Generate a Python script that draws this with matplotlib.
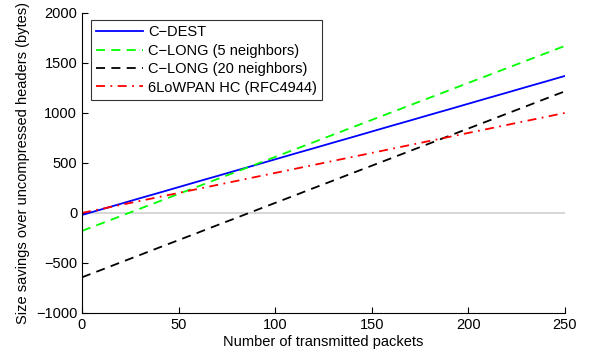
import matplotlib
matplotlib.use('Agg')
import matplotlib.pyplot as plt

plt.rcParams['font.family'] = ['Liberation Sans', 'DejaVu Sans']

# Number of transmitted packets
packets = [0, 10, 20, 30, 40, 50, 60, 70, 80, 90, 100, 110, 120, 130, 140,
           150, 160, 170, 180, 190, 200, 210, 220, 230, 240, 250]

# Size savings (bytes)
c_dest = [-20, 35, 91, 147, 202, 258, 314, 369, 425, 480, 536, 592, 647, 703,
          758, 814, 870, 925, 981, 1036, 1092, 1148, 1203, 1259, 1314, 1370]
c_long5 = [-180, -106, -32, 42, 116, 190, 264, 338, 412, 486, 560, 634, 708,
           782, 856, 930, 1004, 1078, 1152, 1226, 1300, 1374, 1448, 1522, 1596, 1670]
c_long20 = [-644, -570, -495, -421, -346, -272, -198, -123, -49, 26, 100, 174,
            249, 323, 398, 472, 546, 621, 695, 770, 844, 918, 993, 1067, 1142, 1216]
lowpan = [0, 40, 80, 120, 160, 200, 240, 280, 320, 360, 400, 440, 480, 520,
          560, 600, 640, 680, 720, 760, 800, 840, 880, 920, 960, 1000]

fig = plt.figure(figsize=(5.92, 3.58), dpi=100)
ax = fig.add_axes([0.1385, 0.126, 0.8155, 0.8377])

ax.axhline(0, color='#d0d0d0', lw=1.2, zorder=1)
ax.plot(packets, c_dest, color='#0000ff', lw=1.3, label='C\u2212DEST')
ax.plot(packets, c_long5, color='#00ff00', lw=1.3, ls=(0, (5, 3.5)),
        label='C\u2212LONG (5 neighbors)')
ax.plot(packets, c_long20, color='black', lw=1.3, ls=(0, (5, 3.5)),
        label='C\u2212LONG (20 neighbors)')
ax.plot(packets, lowpan, color='#ff0000', lw=1.3, ls=(0, (5, 3, 1, 3)),
        label='6LoWPAN HC (RFC4944)')

ax.set_xlim(0, 250)
ax.set_ylim(-1000, 2000)
ax.set_xticks([0, 50, 100, 150, 200, 250])
ax.set_yticks([-1000, -500, 0, 500, 1000, 1500, 2000])
ax.set_yticklabels(['\u22121000', '\u2212500', '0', '500', '1000', '1500', '2000'])
ax.tick_params(direction='in', length=4, labelsize=10.5, width=0.8)
for s in ['top', 'right']:
    ax.spines[s].set_visible(False)
for s in ['left', 'bottom']:
    ax.spines[s].set_linewidth(0.8)

ax.set_xlabel('Number of transmitted packets', fontsize=10.5, labelpad=2)
ax.set_ylabel('Size savings over uncompressed headers (bytes)', fontsize=10.5, labelpad=4)

leg = ax.legend(loc='upper left', fontsize=10.5, frameon=True, fancybox=False,
                edgecolor='black', handlelength=3.2, borderpad=0.35,
                labelspacing=0.3, handletextpad=0.4, bbox_to_anchor=(0.003, 1.0))
leg.get_frame().set_linewidth(0.8)

fig.savefig('out.png', dpi=100)
